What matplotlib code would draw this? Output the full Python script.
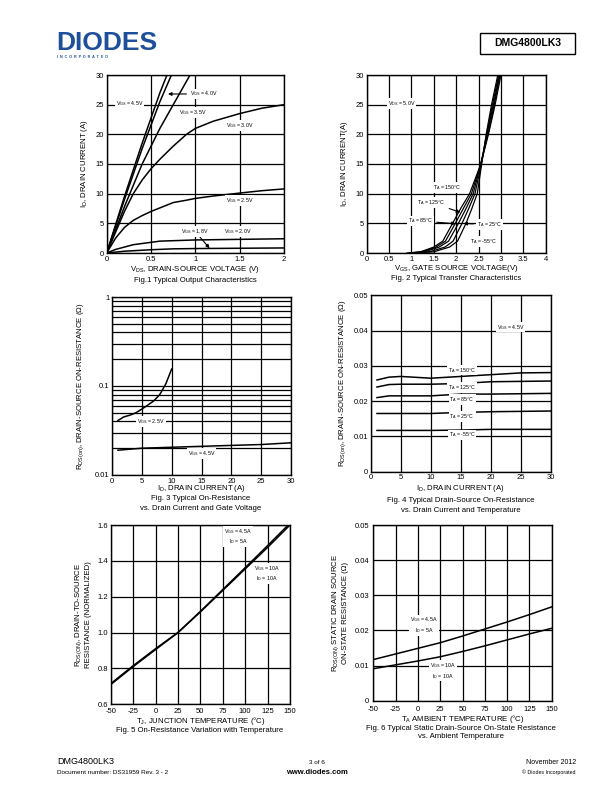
import matplotlib
matplotlib.use("Agg")
import matplotlib.pyplot as plt
from matplotlib.patches import Rectangle

plt.rcParams['font.family'] = ['Liberation Sans', 'DejaVu Sans']
plt.rcParams['mathtext.default'] = 'regular'
plt.rcParams['axes.unicode_minus'] = False

W, H = 612, 792

# ---------------- data ----------------
# Fig 1: output characteristics (VDS [V], ID [A])
f1_vds_45 = [0, 0.2, 0.4, 0.6, 0.68]
f1_id_45 = [0, 9.5, 18.5, 27.0, 30]
f1_vds_40 = [0, 0.2, 0.4, 0.6, 0.73]
f1_id_40 = [0, 9.0, 17.6, 25.5, 30]
f1_vds_35 = [0, 0.2, 0.4, 0.6, 0.8, 0.94]
f1_id_35 = [0, 7.8, 15.0, 21.0, 26.3, 30]
f1_vds_30 = [0, 0.1, 0.2, 0.3, 0.4, 0.5, 0.6, 0.75, 0.9, 1.0, 1.2, 1.5, 1.75, 2.0]
f1_id_30 = [0, 3.5, 7.0, 10.0, 12.3, 14.2, 15.8, 18.0, 20.0, 21.0, 22.2, 23.5, 24.4, 25.0]
f1_vds_25 = [0, 0.1, 0.2, 0.3, 0.4, 0.5, 0.6, 0.75, 0.9, 1.0, 1.2, 1.5, 1.75, 2.0]
f1_id_25 = [0, 2.5, 4.3, 5.5, 6.3, 7.0, 7.6, 8.5, 8.9, 9.2, 9.6, 10.1, 10.5, 10.8]
f1_vds_20 = [0, 0.1, 0.2, 0.3, 0.5, 0.6, 0.8, 1.0, 1.5, 2.0]
f1_id_20 = [0, 0.6, 1.0, 1.4, 1.8, 2.0, 2.1, 2.2, 2.3, 2.4]
f1_vds_18 = [0, 0.2, 0.5, 0.75, 1.0, 1.5, 2.0]
f1_id_18 = [0, 0.3, 0.55, 0.7, 0.75, 0.8, 0.85]

# Fig 2: transfer characteristics (VGS [V], ID [A])
f2_temps = ['150', '125', '85', '25', '-55']
f2_vgs = {
    '150': [0.9, 1.2, 1.5, 1.7, 1.92, 2.1, 2.3, 2.55, 2.72, 2.87, 3.0],
    '125': [0.95, 1.25, 1.55, 1.76, 1.98, 2.16, 2.34, 2.55, 2.71, 2.85, 2.98],
    '85': [1.0, 1.3, 1.62, 1.83, 2.05, 2.22, 2.38, 2.55, 2.69, 2.83, 2.97],
    '25': [1.05, 1.4, 1.75, 1.93, 2.13, 2.28, 2.42, 2.56, 2.68, 2.81, 2.95],
    '-55': [1.1, 1.5, 1.85, 2.03, 2.22, 2.35, 2.47, 2.57, 2.67, 2.79, 2.93],
}
f2_id = [0, 0.2, 1, 2, 5, 7.5, 10, 15, 20, 25, 30]

# Fig 3: on-resistance vs drain current and gate voltage
f3_id_25 = [1, 2, 3, 4, 5, 6, 7, 8, 9, 10]
f3_r_25 = [0.041, 0.045, 0.047, 0.050, 0.055, 0.061, 0.068, 0.080, 0.105, 0.155]
f3_id_45 = [1, 5, 10, 15, 20, 25, 30]
f3_r_45 = [0.019, 0.020, 0.0205, 0.021, 0.0215, 0.022, 0.023]

# Fig 4: on-resistance vs drain current and temperature
f4_id = [1, 3, 5, 10, 15, 20, 25, 30]
f4_r = {
    '150': [0.026, 0.0268, 0.027, 0.0265, 0.027, 0.0275, 0.028, 0.0281],
    '125': [0.024, 0.0247, 0.0248, 0.0248, 0.025, 0.0255, 0.0256, 0.0257],
    '85': [0.021, 0.0215, 0.0215, 0.0215, 0.022, 0.022, 0.0221, 0.0222],
    '25': [0.0165, 0.0165, 0.0165, 0.0165, 0.0168, 0.017, 0.0171, 0.0172],
    '-55': [0.0117, 0.0117, 0.0117, 0.0117, 0.0118, 0.012, 0.012, 0.012],
}

# Fig 5: normalized on-resistance vs junction temperature
f5_t = [-50, -25, 0, 25, 50, 75, 100, 125, 150]
f5_r_5a = [0.71, 0.81, 0.905, 1.0, 1.115, 1.235, 1.355, 1.475, 1.6]
f5_r_10a = [0.715, 0.815, 0.91, 1.0, 1.118, 1.24, 1.362, 1.485, 1.61]

# Fig 6: static on-resistance vs ambient temperature
f6_t = [-50, -25, 0, 25, 50, 75, 100, 125, 150]
f6_r_45 = [0.0117, 0.0133, 0.0149, 0.0165, 0.0184, 0.0204, 0.0224, 0.0245, 0.0267]
f6_r_10 = [0.0091, 0.0102, 0.0113, 0.0125, 0.014, 0.0156, 0.0173, 0.019, 0.0206]

# ---------------- figure ----------------
fig = plt.figure(figsize=(W / 100, H / 100), dpi=100)
fig.patch.set_facecolor('white')

def add_ax(l, t, r, b):
    return fig.add_axes([l / W, 1 - b / H, (r - l) / W, (b - t) / H])

TICK = 5.5
LAB = 5.6
ANN = 3.8
LW = 1.1
GLW = 0.9

def style(ax):
    for s in ax.spines.values():
        s.set_linewidth(1.0)
    ax.tick_params(length=0, labelsize=TICK, pad=2.0)
    ax.grid(True, color='black', linewidth=GLW)
    ax.set_axisbelow(True)

def ftxt(x, y, s, **kw):
    fig.text(x / W, 1 - y / H, s, **kw)

box = dict(fc='white', ec='none', pad=0.6)

# ---- Fig 1 ----
ax1 = add_ax(106.7, 75, 284, 253)
for xs, ys in [(f1_vds_45, f1_id_45), (f1_vds_40, f1_id_40), (f1_vds_35, f1_id_35),
               (f1_vds_30, f1_id_30), (f1_vds_25, f1_id_25), (f1_vds_20, f1_id_20),
               (f1_vds_18, f1_id_18)]:
    ax1.plot(xs, ys, color='black', lw=LW, clip_on=True)
ax1.set_xlim(0, 2)
ax1.set_ylim(0, 30)
ax1.set_xticks([0, 0.5, 1, 1.5, 2])
ax1.set_xticklabels(['0', '0.5', '1', '1.5', '2'])
ax1.set_yticks([0, 5, 10, 15, 20, 25, 30])
style(ax1)
ax1.set_xlabel('V$_{DS}$, DRAIN-SOURCE VOLTAGE (V)', fontsize=LAB, labelpad=1)
ax1.set_ylabel('I$_D$, DRAIN CURRENT (A)', fontsize=LAB, labelpad=4)
ax1.text(0.26, 25.2, 'V$_{GS}$ = 4.5V', fontsize=ANN, ha='center', va='center', bbox=box)
ax1.annotate('V$_{GS}$ = 4.0V', xy=(0.66, 26.8), xytext=(0.94, 26.8), fontsize=ANN,
             va='center', bbox=box,
             arrowprops=dict(arrowstyle='-|>', color='black', lw=0.8, mutation_scale=5))
ax1.text(0.97, 23.7, 'V$_{GS}$ = 3.5V', fontsize=ANN, ha='center', va='center', bbox=box)
ax1.text(1.5, 21.5, 'V$_{GS}$ = 3.0V', fontsize=ANN, ha='center', va='center', bbox=box)
ax1.text(1.5, 8.8, 'V$_{GS}$ = 2.5V', fontsize=ANN, ha='center', va='center', bbox=box)
ax1.annotate('V$_{GS}$ = 1.8V', xy=(1.16, 0.8), xytext=(1.0, 3.6), fontsize=ANN,
             ha='center', va='center', bbox=box,
             arrowprops=dict(arrowstyle='-|>', color='black', lw=0.8, mutation_scale=5,
                             shrinkA=0, shrinkB=0))
ax1.text(1.48, 3.6, 'V$_{GS}$ = 2.0V', fontsize=ANN, ha='center', va='center', bbox=box)
ftxt(195, 281, 'Fig.1 Typical Output Characteristics', fontsize=LAB, ha='center', va='center')

# ---- Fig 2 ----
ax2 = add_ax(366.7, 75, 545.7, 253)
for t in f2_temps:
    ax2.plot(f2_vgs[t], f2_id, color='black', lw=0.9)
ax2.set_xlim(0, 4)
ax2.set_ylim(0, 30)
ax2.set_xticks([0, 0.5, 1, 1.5, 2, 2.5, 3, 3.5, 4])
ax2.set_xticklabels(['0', '0.5', '1', '1.5', '2', '2.5', '3', '3.5', '4'])
ax2.set_yticks([0, 5, 10, 15, 20, 25, 30])
style(ax2)
ax2.set_xlabel('V$_{GS}$, GATE SOURCE VOLTAGE(V)', fontsize=LAB, labelpad=0)
ax2.set_ylabel('I$_D$, DRAIN CURRENT(A)', fontsize=LAB, labelpad=4)
ax2.text(0.78, 25.2, 'V$_{DS}$ = 5.0V', fontsize=ANN, ha='center', va='center', bbox=box)
ax2.text(1.8, 11.0, 'T$_A$ = 150°C', fontsize=ANN, ha='center', va='center', bbox=box)
ax2.annotate('T$_A$ = 125°C', xy=(2.15, 6.7), xytext=(1.45, 8.5), fontsize=ANN,
             ha='center', va='center', bbox=box,
             arrowprops=dict(arrowstyle='-|>', color='black', lw=0.8, mutation_scale=5))
ax2.annotate('T$_A$ = 85°C', xy=(2.05, 4.9), xytext=(1.2, 5.4), fontsize=ANN,
             ha='center', va='center', bbox=box,
             arrowprops=dict(arrowstyle='-|>', color='black', lw=0.8, mutation_scale=5))
ax2.annotate('T$_A$ = 25°C', xy=(2.1, 5.0), xytext=(2.75, 4.8), fontsize=ANN,
             ha='center', va='center', bbox=box,
             arrowprops=dict(arrowstyle='-|>', color='black', lw=0.8, mutation_scale=5))
ax2.text(2.6, 1.9, 'T$_A$ = -55°C', fontsize=ANN, ha='center', va='center', bbox=box)
ftxt(456, 279, 'Fig. 2 Typical Transfer Characteristics', fontsize=LAB, ha='center', va='center')

# ---- Fig 3 ----
ax3 = add_ax(112, 297, 291, 475)
ax3.plot(f3_id_25, f3_r_25, color='black', lw=LW)
ax3.plot(f3_id_45, f3_r_45, color='black', lw=LW)
ax3.set_yscale('log')
ax3.set_xlim(0, 30)
ax3.set_ylim(0.01, 1)
ax3.set_xticks([0, 5, 10, 15, 20, 25, 30])
ax3.set_yticks([0.01, 0.1, 1])
ax3.set_yticklabels(['0.01', '0.1', '1'])
ax3.yaxis.set_minor_formatter(matplotlib.ticker.NullFormatter())
style(ax3)
ax3.tick_params(which='minor', length=0)
ax3.grid(True, which='minor', axis='y', color='black', linewidth=GLW)
ax3.set_xlabel('I$_D$, DRAIN CURRENT (A)', fontsize=LAB, labelpad=-1)
ax3.set_ylabel('R$_{DS(on)}$, DRAIN-SOURCE ON-RESISTANCE (Ω)', fontsize=LAB, labelpad=6)
ax3.text(6.5, 0.04, 'V$_{GS}$ = 2.5V', fontsize=ANN, ha='center', va='center', bbox=box)
ax3.text(15, 0.0175, 'V$_{GS}$ = 4.5V', fontsize=ANN, ha='center', va='center', bbox=box)
ftxt(201, 499, 'Fig. 3 Typical On-Resistance', fontsize=LAB, ha='center', va='center')
ftxt(201, 508, 'vs. Drain Current and Gate Voltage', fontsize=LAB, ha='center', va='center')

# ---- Fig 4 ----
ax4 = add_ax(371, 295.3, 550.7, 471.7)
for t in f2_temps:
    ax4.plot(f4_id, f4_r[t], color='black', lw=LW)
ax4.set_xlim(0, 30)
ax4.set_ylim(0, 0.05)
ax4.set_xticks([0, 5, 10, 15, 20, 25, 30])
ax4.set_yticks([0, 0.01, 0.02, 0.03, 0.04, 0.05])
ax4.set_yticklabels(['0', '0.01', '0.02', '0.03', '0.04', '0.05'])
style(ax4)
ax4.set_xlabel('I$_D$, DRAIN CURRENT (A)', fontsize=LAB, labelpad=1)
ax4.set_ylabel('R$_{DS(on)}$, DRAIN-SOURCE ON-RESISTANCE (Ω)', fontsize=LAB, labelpad=4)
ax4.text(23.3, 0.041, 'V$_{GS}$ = 4.5V', fontsize=ANN, ha='center', va='center', bbox=box)
ax4.text(15.2, 0.0288, 'T$_A$ = 150°C', fontsize=ANN, ha='center', va='center', bbox=box)
ax4.text(15.2, 0.0238, 'T$_A$ = 125°C', fontsize=ANN, ha='center', va='center', bbox=box)
ax4.text(15.2, 0.0205, 'T$_A$ = 85°C', fontsize=ANN, ha='center', va='center', bbox=box)
ax4.text(15.2, 0.0157, 'T$_A$ = 25°C', fontsize=ANN, ha='center', va='center', bbox=box)
ax4.text(15.2, 0.0104, 'T$_A$ = -55°C', fontsize=ANN, ha='center', va='center', bbox=box)
ftxt(461, 501, 'Fig. 4 Typical Drain-Source On-Resistance', fontsize=LAB, ha='center', va='center')
ftxt(461, 510, 'vs. Drain Current and Temperature', fontsize=LAB, ha='center', va='center')

# ---- Fig 5 ----
ax5 = add_ax(110.7, 525, 290, 704.3)
ax5.plot(f5_t, f5_r_5a, color='black', lw=LW)
ax5.plot(f5_t, f5_r_10a, color='black', lw=LW)
ax5.set_xlim(-50, 150)
ax5.set_ylim(0.6, 1.6)
ax5.set_xticks([-50, -25, 0, 25, 50, 75, 100, 125, 150])
ax5.set_yticks([0.6, 0.8, 1.0, 1.2, 1.4, 1.6])
ax5.set_yticklabels(['0.6', '0.8', '1.0', '1.2', '1.4', '1.6'])
style(ax5)
ax5.tick_params(axis='x', pad=3)
ax5.set_xlabel('T$_J$, JUNCTION TEMPERATURE (°C)', fontsize=LAB, labelpad=0)
ax5.set_ylabel('R$_{DS(ON)}$, DRAIN-TO-SOURCE\nRESISTANCE (NORMALIZED)', fontsize=LAB,
               labelpad=4, linespacing=1.1)
ax5.text(92, 1.535, 'V$_{GS}$ = 4.5A\nI$_D$ = 5A', fontsize=ANN, ha='center', va='center',
         bbox=box, linespacing=1.3)
ax5.text(124, 1.33, 'V$_{GS}$ = 10A\nI$_D$ = 10A', fontsize=ANN, ha='center', va='center',
         bbox=box, linespacing=1.3)
ftxt(200, 731, 'Fig. 5 On-Resistance Variation with Temperature', fontsize=LAB,
     ha='center', va='center')

# ---- Fig 6 ----
ax6 = add_ax(373.3, 525, 551.7, 700.7)
ax6.plot(f6_t, f6_r_45, color='black', lw=LW)
ax6.plot(f6_t, f6_r_10, color='black', lw=LW)
ax6.set_xlim(-50, 150)
ax6.set_ylim(0, 0.05)
ax6.set_xticks([-50, -25, 0, 25, 50, 75, 100, 125, 150])
ax6.set_yticks([0, 0.01, 0.02, 0.03, 0.04, 0.05])
ax6.set_yticklabels(['0', '0.01', '0.02', '0.03', '0.04', '0.05'])
style(ax6)
ax6.tick_params(axis='x', pad=3.5)
ax6.tick_params(axis='y', pad=3)
ax6.set_xlabel('T$_A$ AMBIENT TEMPERATURE (°C)', fontsize=LAB, labelpad=0)
ax6.set_ylabel('R$_{DS(ON)}$ STATIC DRAIN SOURCE\nON-STATE RESISTANCE (Ω)', fontsize=LAB,
               labelpad=4, linespacing=1.1)
ax6.text(7, 0.0215, 'V$_{GS}$ = 4.5A\nI$_D$ = 5A', fontsize=ANN, ha='center', va='center',
         bbox=box, linespacing=1.3)
ax6.text(28, 0.0085, 'V$_{GS}$ = 10A\nI$_D$ = 10A', fontsize=ANN, ha='center', va='center',
         bbox=box, linespacing=1.3)
ftxt(461, 728, 'Fig. 6 Typical Static Drain-Source On-State Resistance', fontsize=LAB,
     ha='center', va='center')
ftxt(461, 736, 'vs. Ambient Temperature', fontsize=LAB, ha='center', va='center')

# ---------------- header / footer ----------------
ftxt(56, 43, 'DIODES', fontsize=19, fontweight='bold', color='#1d4f9a', ha='left',
     va='center', family=['Liberation Sans'])
ftxt(57, 57, 'I  N  C  O  R  P  O  R  A  T  E  D', fontsize=2.6, fontweight='bold',
     color='#1d4f9a', ha='left', va='center')
fig.patches.append(Rectangle((480 / W, 1 - 54 / H), 95 / W, 21 / H, transform=fig.transFigure,
                             fill=False, ec='black', lw=1.0))
ftxt(527.5, 43.5, 'DMG4800LK3', fontsize=7.5, fontweight='bold', ha='center', va='center')

ftxt(57, 762, 'DMG4800LK3', fontsize=6.5, ha='left', va='center')
ftxt(57, 773, 'Document number: DS31959 Rev. 3 - 2', fontsize=4.6, ha='left', va='center')
ftxt(317, 762, '3 of 6', fontsize=4.6, ha='center', va='center')
ftxt(317, 772, 'www.diodes.com', fontsize=5.5, fontweight='bold', ha='center', va='center')
ftxt(576, 762, 'November 2012', fontsize=5.0, ha='right', va='center')
ftxt(576, 772, '© Diodes Incorporated', fontsize=3.8, ha='right', va='center')

fig.savefig('out.png', dpi=100)
